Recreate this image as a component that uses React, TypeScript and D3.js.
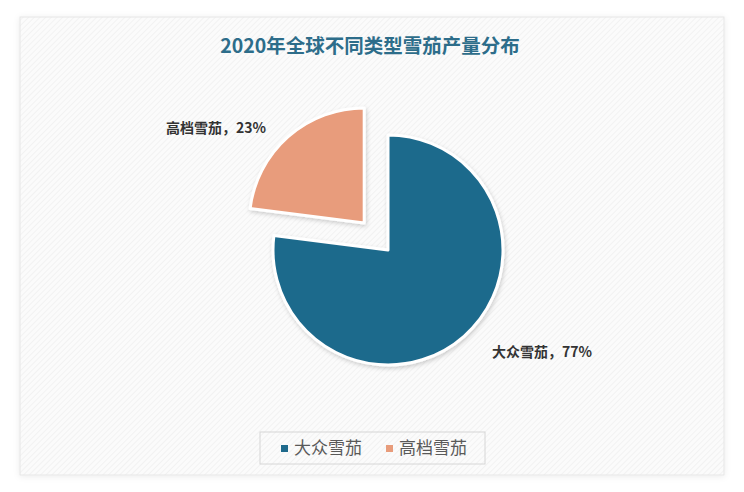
import * as React from 'react';
import * as d3 from 'd3';

const categories = ['大众雪茄', '高档雪茄'];
const shares = [77, 23];
const colors = ['#1f6a8c', '#e89c7b'];

const W = 744;
const H = 492;

export default function App() {
  const cx = 388;
  const cy = 250;
  const r = 115;
  const explode = 36;

  const pie = d3.pie<number>().sort(null).value((d) => d)(shares);
  const arc = d3.arc<d3.PieArcDatum<number>>().innerRadius(0).outerRadius(r);

  const slices = pie.map((p, i) => {
    const mid = (p.startAngle + p.endAngle) / 2;
    const off = i === 1 ? explode : 0;
    return {
      p,
      i,
      dx: Math.sin(mid) * off,
      dy: -Math.cos(mid) * off,
    };
  });

  const labelPos = [
    { x: 492, y: 357, anchor: 'start' },
    { x: 166, y: 133, anchor: 'start' },
  ];

  return (
    <svg width={W} height={H} style={{ position: 'absolute', left: 0, top: 0 }}>
      <defs>
        <pattern id="hatch" width="4" height="4" patternUnits="userSpaceOnUse" patternTransform="rotate(45)">
          <rect width="4" height="4" fill="#fbfbfb" />
          <line x1="0" y1="0" x2="0" y2="4" stroke="#efefef" strokeWidth="1.5" />
        </pattern>
        <filter id="shadow" x="-20%" y="-20%" width="140%" height="140%">
          <feDropShadow dx="1" dy="2" stdDeviation="2" floodColor="#000" floodOpacity="0.18" />
        </filter>
        <filter id="frame" x="-5%" y="-5%" width="110%" height="110%">
          <feDropShadow dx="0" dy="1" stdDeviation="3" floodColor="#000" floodOpacity="0.08" />
        </filter>
      </defs>
      <rect x={0} y={0} width={W} height={H} fill="#ffffff" />
      <rect x={20} y={17} width={704} height={458} fill="url(#hatch)" stroke="#e6e6e6" filter="url(#frame)" />
      <text
        x={370}
        y={53}
        textAnchor="middle"
        fontFamily="'Noto Sans CJK SC', 'Noto Sans', sans-serif"
        fontWeight="bold"
        fontSize={19.5}
        fill="#2d6d8a"
      >
        2020年全球不同类型雪茄产量分布
      </text>
      {slices.map((s) => (
        <path
          key={s.i}
          d={arc(s.p) || ''}
          transform={`translate(${cx + s.dx},${cy + s.dy})`}
          fill={colors[s.i]}
          stroke="#ffffff"
          strokeWidth={3}
          strokeLinejoin="round"
          filter="url(#shadow)"
        />
      ))}
      {slices.map((s) => (
        <text
          key={'l' + s.i}
          x={labelPos[s.i].x}
          y={labelPos[s.i].y}
          textAnchor={labelPos[s.i].anchor as any}
          fontFamily="'Noto Sans CJK SC', sans-serif"
          fontWeight="bold"
          fontSize={14}
          fill="#333"
        >
          {`${categories[s.i]}，${shares[s.i]}%`}
        </text>
      ))}
      <rect x={260} y={432} width={225} height={32} fill="none" stroke="#d6d6d6" />
      {categories.map((c, i) => (
        <g key={'g' + i} transform={`translate(${i === 0 ? 281 : 386},448)`}>
          <rect x={0} y={-3} width={7} height={7} fill={colors[i]} />
          <text
            x={13}
            y={6}
            fontFamily="'Noto Sans CJK SC', sans-serif"
            fontSize={17}
            fill="#595959"
          >
            {c}
          </text>
        </g>
      ))}
    </svg>
  );
}
